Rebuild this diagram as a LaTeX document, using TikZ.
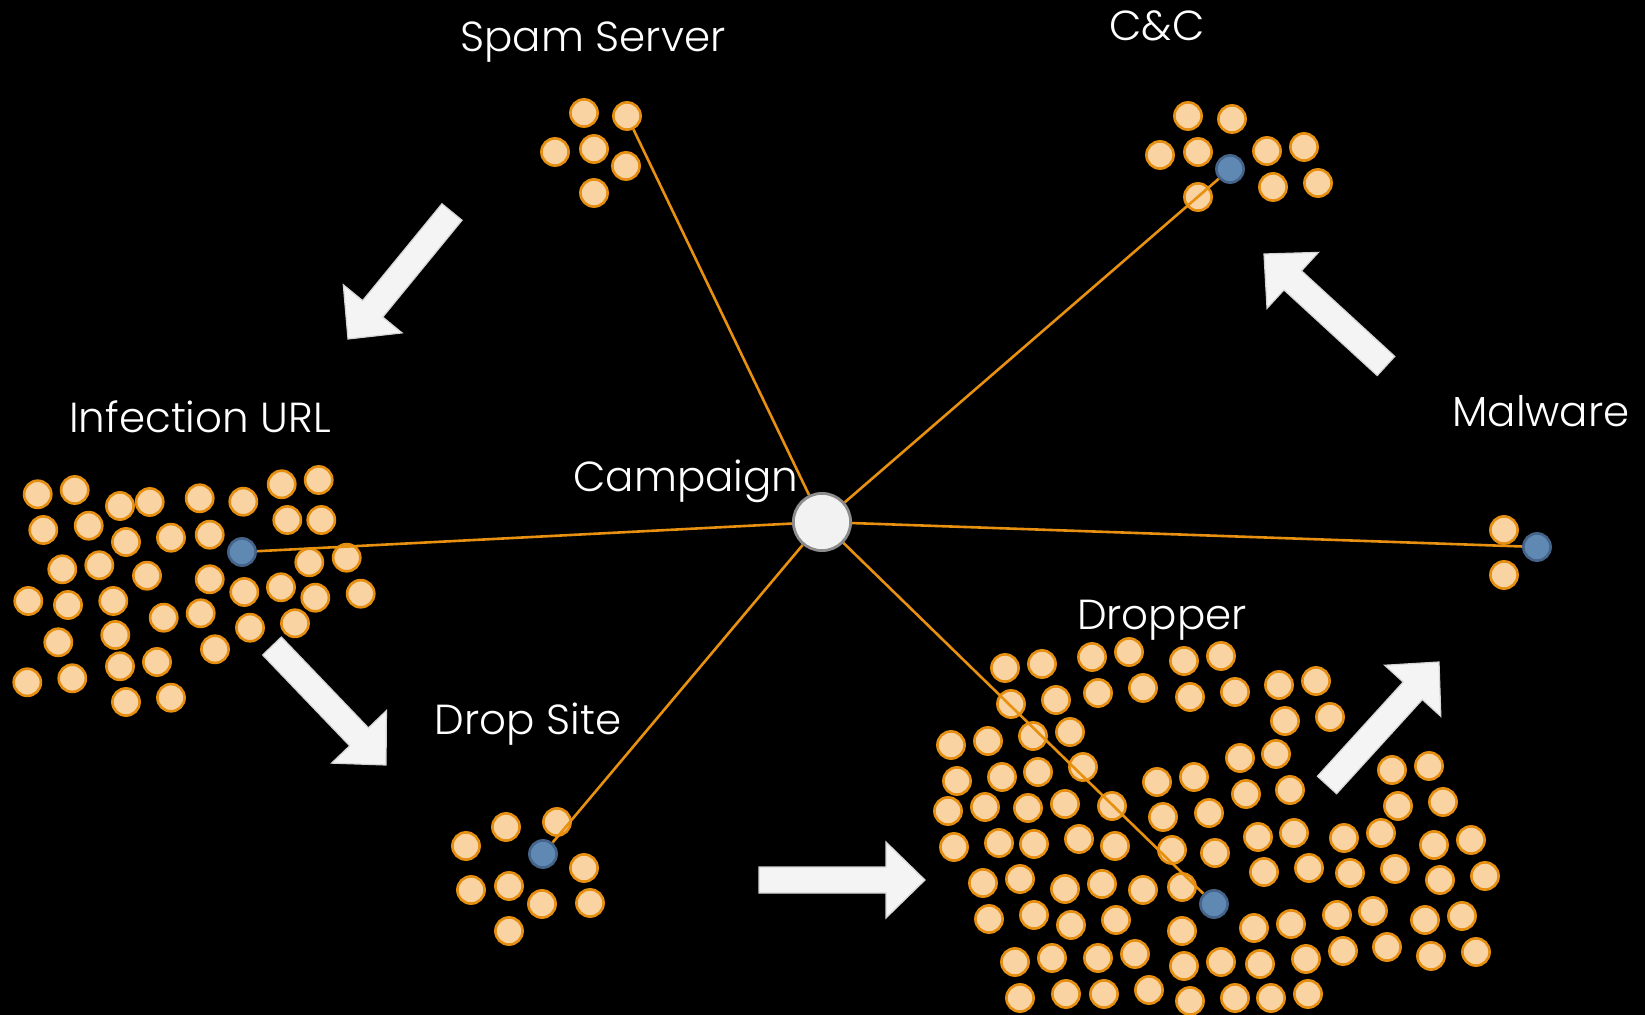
\documentclass[tikz,border=0pt]{standalone}
\usepackage{fontspec}
\IfFontExistsTF{Poppins Light}{\setmainfont{Poppins Light}}{\setmainfont{Poppins}}
\usetikzlibrary{calc}

\definecolor{dotfill}{HTML}{F9D3A1}
\definecolor{dotedge}{HTML}{E58E10}
\definecolor{hubfill}{HTML}{5F89B2}
\definecolor{hubedge}{HTML}{46648A}
\definecolor{linkcol}{HTML}{E8900F}
\definecolor{campfill}{HTML}{F2F2F2}
\definecolor{campedge}{HTML}{8C8C8C}
\definecolor{arrowfill}{HTML}{F4F4F4}
\definecolor{arrowedge}{HTML}{D4D4D4}

\pgfdeclarelayer{links}
\pgfdeclarelayer{hubs}
\pgfsetlayers{main,links,hubs}

% block arrow from tail midpoint #1 to tip #2
\newcommand{\flowarrow}[2]{%
  \coordinate (fa-h) at ($(#2)!19.5pt!(#1)$);
  \draw[flowarrow]
    ($(#1)!6.5pt!90:(#2)$) -- ($(fa-h)!6.5pt!90:(#2)$) --
    ($(fa-h)!19pt!90:(#2)$) -- (#2) -- ($(fa-h)!19pt!-90:(#2)$) --
    ($(fa-h)!6.5pt!-90:(#2)$) -- ($(#1)!6.5pt!-90:(#2)$) -- cycle;
}

\begin{document}
\begin{tikzpicture}[x=0.5pt,y=-0.5pt,
  dot/.style={circle, draw=dotedge, fill=dotfill, line width=1.3pt,
              minimum size=13.6pt, inner sep=0pt},
  hub/.style={circle, draw=hubedge, fill=hubfill, line width=1.3pt,
              minimum size=13.6pt, inner sep=0pt},
  campnode/.style={circle, draw=campedge, fill=campfill, line width=1.4pt,
              minimum size=28.6pt, inner sep=0pt},
  link/.style={draw=linkcol, line width=1.3pt},
  lbl/.style={text=white, anchor=base, inner sep=0pt,
              font=\fontsize{21}{25}\selectfont},
  flowarrow/.style={fill=arrowfill, draw=arrowedge, line width=0.6pt,
              line join=miter}
]
\fill[black] (0,0) rectangle (1645,1015);
\useasboundingbox (0,0) rectangle (1645,1015);

% ---- labels
\node[lbl] (t-spam) at (593,52)  {Spam Server};
\node[lbl] (t-cc)   at (1157,41) {C\&C};
\node[lbl] (t-inf)  at (200,433) {Infection URL};
\node[lbl] (t-camp) at (686,492) {Campaign};
\node[lbl] (t-mal)  at (1541,427) {Malware};
\node[lbl] (t-drp)  at (1162,630) {Dropper};
\node[lbl] (t-site) at (528,735) {Drop Site};

% ---- spam server
\foreach \p [count=\i] in {(584,113),(555,152),(594,149),(626,166),(594,193)}
  \node[dot] (spam-\i) at \p {};

% ---- C&C
\foreach \p [count=\i] in {(1188,116),(1232,119),(1160,155),(1198,152),(1267,151),
    (1304,147),(1198,197),(1273,187),(1318,183)}
  \node[dot] (cc-\i) at \p {};

% ---- infection URL
\foreach \p [count=\i] in {(37.7,494.3),(74.7,490),(120,506),(149.7,502),(199.7,498.3),
    (243.3,501.7),(281.7,484.3),(318.7,480),(43.3,530),(88.7,525.7),(126,542),
    (171,537.7),(209.7,534.7),(287.3,520),(321.3,520),(62.3,569.3),(99.3,565.3),
    (147,575.7),(209.7,579.3),(309.3,562.3),(346.7,557.7),(28.3,601),(68,605),
    (113.3,601),(244.3,592),(281,587.3),(315.3,597.7),(360.7,593.7),(163.7,617.7),
    (200.7,613.3),(58.3,642.3),(115.3,635),(250,627.7),(295,623.3),(215,649.3),
    (27.3,682.3),(72.3,678.3),(120,666.3),(157,662),(126,702),(171,697.7)}
  \node[dot] (inf-\i) at \p {};

% ---- drop site
\foreach \p [count=\i] in {(506,827),(557,822),(466,846),(584,868),(471,890),
    (509,886),(542,904),(590,903),(509,931)}
  \node[dot] (site-\i) at \p {};

% ---- malware
\node[dot] (mal-1) at (1504,530) {};
\node[dot] (mal-2) at (1504,575) {};

% ---- dropper
\foreach \p [count=\i] in {(1005,668),(1042,664),(1092,657),(1129,652),(1184,661),(1221,656),
    (1011,704),(1056,700),(1098,693),(1143,688),(1190,697),(1235,692),(1279,685),
    (1285,721),(951,745),(988,741),(1033,736),(1070,732),
    (957,781),(1002,777),(1038,772),(1083,767),(1240,758),(1276,754),
    (1157,782),(1194,777),(948,811),(985,807),(1028,808),(1065,804),(1112,806),
    (1163,817),(1209,813),(1246,794),(1290,790),
    (954,847),(999,843),(1034,844),(1079,839),(1115,846),
    (1172,850),(1215,853),(1258,837),(1294,833),(1264,872),
    (983,883),(1020,879),(1065,889),(1102,884),(1143,890),(1182,887),
    (989,919),(1034,915),(1071,925),(1116,920),(1182,931),(1254,928),(1291,924),
    (1015,962),(1052,958),(1098,958),(1135,954),(1184,966),(1221,962),(1260,964),
    (1020,998),(1066,994),(1104,994),(1149,990),(1190,1001),(1235,998),(1271,998),
    (1316,681),(1330,717),(1392,770),(1429,766),(1398,806),(1443,802),
    (1344,838),(1381,833),(1434,845),(1471,840),
    (1309,868),(1350,873),(1395,869),(1440,880),(1485,876),
    (1337,915),(1373,911),(1425,920),(1462,916),
    (1306,959),(1343,951),(1387,947),(1431,956),(1476,952),(1308,994)}
  \node[dot] (drp-\i) at \p {};

% ---- hubs and campaign centre
\begin{pgfonlayer}{hubs}
  \node[dot] (spam-hub) at (627,116) {};
  \node[hub] (cc-hub)   at (1230,169) {};
  \node[hub] (inf-hub)  at (242,552) {};
  \node[hub] (site-hub) at (543,854) {};
  \node[hub] (mal-hub)  at (1537,547) {};
  \node[hub] (drp-hub)  at (1214,904) {};
  \node[campnode] (camp) at (822,522) {};
\end{pgfonlayer}

% ---- links
\begin{pgfonlayer}{links}
  \foreach \h in {spam-hub,cc-hub,inf-hub,site-hub,mal-hub,drp-hub}
    \draw[link] (camp) -- (\h);
\end{pgfonlayer}

% ---- flow arrows
\coordinate (a1-t) at (452,212);  \coordinate (a1-p) at (348,339);
\coordinate (a2-t) at (272,646);  \coordinate (a2-p) at (386,765);
\coordinate (a3-t) at (759,880);  \coordinate (a3-p) at (925,880);
\coordinate (a4-t) at (1327,785); \coordinate (a4-p) at (1439,662);
\coordinate (a5-t) at (1386,366); \coordinate (a5-p) at (1264,254);
\flowarrow{a1-t}{a1-p}
\flowarrow{a2-t}{a2-p}
\flowarrow{a3-t}{a3-p}
\flowarrow{a4-t}{a4-p}
\flowarrow{a5-t}{a5-p}
\end{tikzpicture}
\end{document}
